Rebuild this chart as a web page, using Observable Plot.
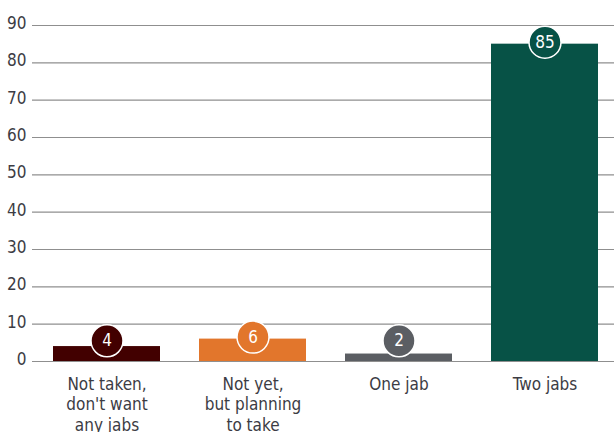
<!DOCTYPE html>
<html>
<head>
<meta charset="utf-8">
<script src="https://cdn.jsdelivr.net/npm/d3@7"></script>
<script src="https://cdn.jsdelivr.net/npm/@observablehq/plot@0.6"></script>
<style>
  html, body { margin: 0; padding: 0; background: #fff; overflow: hidden; }
  svg { font-family: "Liberation Sans Narrow", "DejaVu Sans Condensed", sans-serif; }
</style>
</head>
<body>
<div id="chart"></div>
<script>
const categories = ["Not taken,\ndon't want\nany jabs", "Not yet,\nbut planning\nto take", "One jab", "Two jabs"];
const values = [4, 6, 2, 85];
const colors = ["#420000", "#e2762c", "#5b5e63", "#075246"];
const yTicks = [0, 10, 20, 30, 40, 50, 60, 70, 80, 90];

const data = categories.map((c, i) => ({category: c, value: values[i], color: colors[i]}));
const textColor = "#3c3c44";

const chart = Plot.plot({
  width: 614,
  height: 432,
  marginLeft: 32,
  marginRight: 0,
  marginTop: 25,
  marginBottom: 71,
  style: {fontFamily: "'Liberation Sans Narrow', 'DejaVu Sans Condensed', sans-serif", fontSize: "17px", color: textColor, background: "#fff"},
  x: {domain: categories, range: [33, 617], paddingInner: 0.27, paddingOuter: 0.135, axis: null},
  y: {domain: [0, 90], ticks: yTicks, axis: null},
  marks: [
    Plot.ruleY(yTicks, {stroke: "#8f8f8f", strokeWidth: 1.2}),
    Plot.text(yTicks, {frameAnchor: "left", y: d => d, text: d => String(d), textAnchor: "end", dx: -6, dy: -2, fill: textColor, fontSize: 17}),
    Plot.barY(data, {x: "category", y: "value", fill: "color"}),
    Plot.dot(data, {x: "category", y: d => Math.max(d.value, 5), dy: -2, r: 16, fill: "color", stroke: "#fff", strokeWidth: 1.5}),
    Plot.text(data, {x: "category", y: d => Math.max(d.value, 5), dy: -2, text: d => String(d.value), fill: "#fff", fontSize: 17}),
    Plot.text(data, {x: "category", frameAnchor: "bottom", text: "category", lineAnchor: "top", dy: 14, lineHeight: 1.2, fill: textColor, fontSize: 17})
  ]
});
document.getElementById("chart").appendChild(chart);
</script>
</body>
</html>
